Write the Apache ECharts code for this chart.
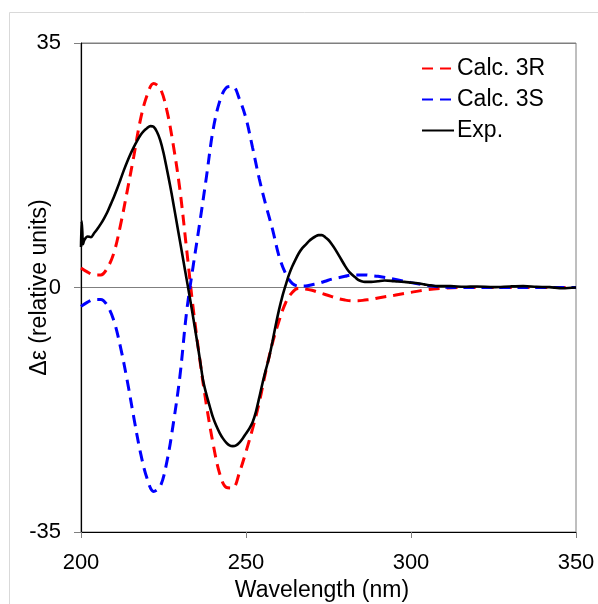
<!DOCTYPE html>
<html>
<head>
<meta charset="utf-8">
<script src="https://cdn.jsdelivr.net/npm/echarts@6/dist/echarts.min.js"></script>
<style>
html,body{margin:0;padding:0;background:#fff;}
#chart{width:598px;height:604px;}
</style>
</head>
<body>
<div id="chart"></div>
<script>
// Tick values
const xTicks = [200, 250, 300, 350];
const yTicks = [-35, 0, 35];

// Calc. 3R
const wl3R = [200, 202, 204, 206, 208, 210, 212, 214, 216, 218, 220, 222, 224, 226, 228, 230, 232, 234, 236, 238, 240, 242, 244, 246, 248, 250, 252, 254, 256, 258, 260, 262, 264, 266, 268, 270, 272, 274, 276, 278, 280, 282, 284, 286, 288, 290, 295, 300, 305, 310, 315, 320, 330, 340, 350];
const val3R = [2.8, 2.2, 1.8, 1.8, 2.8, 5.0, 9.0, 13.8, 18.8, 24.0, 27.5, 29.2, 28.5, 25.4, 20.3, 13.9, 5.5, -3.0, -10.3, -16.8, -22.3, -26.6, -28.6, -28.7, -26.5, -23.5, -20.2, -16.5, -12.0, -8.0, -4.8, -2.2, -0.7, -0.1, -0.2, -0.4, -0.7, -1.0, -1.3, -1.6, -1.8, -1.9, -1.9, -1.8, -1.7, -1.5, -1.1, -0.7, -0.3, -0.1, 0, 0, 0, 0, 0];

// Calc. 3S
const wl3S = [200, 202, 204, 206, 208, 210, 212, 214, 216, 218, 220, 222, 224, 226, 228, 230, 232, 234, 236, 238, 240, 242, 244, 246, 248, 250, 252, 254, 256, 258, 260, 262, 264, 266, 268, 270, 272, 274, 276, 278, 280, 282, 284, 286, 288, 290, 295, 300, 305, 310, 315, 320, 330, 340, 350];
const val3S = [-2.7, -2.1, -1.7, -1.7, -2.6, -4.8, -8.6, -13.3, -18.6, -23.6, -27.3, -29.2, -28.5, -25.0, -19.4, -12.6, -3.5, 3.1, 9.3, 15.8, 22.5, 26.6, 28.6, 28.8, 27.0, 24.2, 20.0, 15.6, 11.8, 8.4, 4.5, 2.0, 0.6, 0.2, 0.2, 0.4, 0.6, 0.9, 1.2, 1.4, 1.6, 1.8, 1.8, 1.8, 1.7, 1.6, 1.2, 0.7, 0.3, 0.05, 0, 0, 0, 0, 0];

// Exp.
const wlExp = [200, 200.2, 200.4, 200.6, 201, 202, 203, 204, 205, 206, 207, 208, 209, 210, 211, 212, 213, 214, 215, 216, 217, 218, 219, 220, 221, 222, 223, 224, 225, 226, 227, 228, 229, 230, 231, 232, 233, 234, 235, 236, 237, 238, 239, 240, 241, 242, 243, 244, 245, 246, 247, 248, 249, 250, 251, 252, 253, 254, 255, 256, 257, 258, 259, 260, 261, 262, 263, 264, 265, 266, 267, 268, 269, 270, 271, 272, 273, 274, 275, 276, 277, 278, 279, 280, 281, 282, 283, 284, 285, 286, 288, 290, 292, 294, 296, 298, 300, 302, 304, 306, 308, 312, 316, 320, 325, 330, 334, 338, 342, 346, 350];
const valExp = [5.8, 9.5, 8.0, 6.2, 6.8, 7.3, 7.2, 7.8, 8.4, 9.1, 9.9, 10.8, 11.9, 13.0, 14.2, 15.5, 16.8, 18.0, 19.1, 20.1, 21.0, 21.8, 22.4, 22.8, 23.1, 23.0, 22.3, 21.1, 19.3, 17.0, 14.6, 12.0, 9.3, 6.6, 3.9, 1.2, -1.5, -4.3, -7.2, -10.2, -13.3, -15.3, -17.0, -18.6, -19.8, -20.8, -21.6, -22.2, -22.6, -22.7, -22.6, -22.2, -21.6, -20.9, -20.2, -19.3, -17.8, -15.8, -13.7, -11.8, -10.0, -7.8, -5.4, -3.2, -1.3, 0.3, 1.8, 3.0, 4.0, 4.9, 5.6, 6.1, 6.6, 7.0, 7.3, 7.5, 7.5, 7.2, 6.8, 6.2, 5.5, 4.7, 3.9, 3.1, 2.4, 1.9, 1.5, 1.1, 0.9, 0.8, 0.8, 0.9, 1.0, 0.95, 0.85, 0.8, 0.7, 0.6, 0.45, 0.3, 0.2, 0.2, 0.1, 0.15, 0.05, 0.15, 0.2, 0.1, 0.05, -0.1, 0];

const pairs = (xs, ys) => xs.map((x, i) => [x, ys[i]]);
const FONT = 'Liberation Sans, Arial, sans-serif';

const chart = echarts.init(document.getElementById('chart'), null, {renderer: 'canvas'});
chart.setOption({
  animation: false,
  backgroundColor: '#fff',
  graphic: [{
    type: 'rect',
    shape: {x: 9.5, y: 12.5, width: 700, height: 700},
    style: {fill: 'none', stroke: '#d9d9d9', lineWidth: 1},
    silent: true, z: 0
  }],
  grid: {
    left: 81, right: 22, top: 43, bottom: 72,
    outerBoundsMode: 'none', containLabel: false,
    show: true, borderColor: '#7f7f7f', borderWidth: 1, backgroundColor: 'transparent'
  },
  legend: {
    orient: 'vertical',
    left: 416, top: 52,
    itemWidth: 32, itemHeight: 14, itemGap: 8,
    itemStyle: {opacity: 0, color: 'transparent', borderWidth: 0},
    textStyle: {fontFamily: FONT, fontSize: 23, color: '#000', padding: [0, 0, 0, -2]},
    data: ['Calc. 3R', 'Calc. 3S', 'Exp.']
  },
  xAxis: {
    type: 'value',
    min: xTicks[0], max: xTicks[xTicks.length - 1],
    interval: xTicks[1] - xTicks[0],
    name: 'Wavelength (nm)',
    nameLocation: 'middle', nameGap: 47, nameMoveOverlap: false,
    nameTextStyle: {fontFamily: FONT, fontSize: 23, color: '#000', padding: [0, 13, 0, 0]},
    axisLine: {show: true, onZero: false, lineStyle: {color: '#000', width: 1.2}},
    axisTick: {show: true, inside: false, length: 6, lineStyle: {color: '#7f7f7f'}},
    axisLabel: {fontFamily: FONT, fontSize: 22, color: '#000', margin: 20},
    splitLine: {show: false}
  },
  yAxis: {
    type: 'value',
    min: yTicks[0], max: yTicks[yTicks.length - 1],
    interval: yTicks[1] - yTicks[0],
    name: 'Δε (relative units)',
    nameLocation: 'middle', nameGap: 30, nameMoveOverlap: false,
    nameTextStyle: {fontFamily: FONT, fontSize: 23, color: '#000'},
    axisLine: {show: true, onZero: false, lineStyle: {color: '#000', width: 1.2}},
    axisTick: {show: true, inside: false, length: 7, lineStyle: {color: '#7f7f7f'}},
    axisLabel: {fontFamily: FONT, fontSize: 22, color: '#000', margin: 20},
    splitLine: {show: true, lineStyle: {color: ['transparent', '#7f7f7f', '#7f7f7f'], width: 1.2}}
  },
  series: [
    {
      name: 'Calc. 3R', type: 'line', data: pairs(wl3R, val3R),
      showSymbol: false, symbol: 'none', smooth: 0.35,
      lineStyle: {color: '#ff0000', width: 3, type: [11, 7]},
      itemStyle: {color: '#ff0000'}, z: 3
    },
    {
      name: 'Calc. 3S', type: 'line', data: pairs(wl3S, val3S),
      showSymbol: false, symbol: 'none', smooth: 0.35,
      lineStyle: {color: '#0000ff', width: 3, type: [11, 7]},
      itemStyle: {color: '#0000ff'}, z: 3
    },
    {
      name: 'Exp.', type: 'line', data: pairs(wlExp, valExp),
      showSymbol: false, symbol: 'none', smooth: 0.3,
      lineStyle: {color: '#000000', width: 2.6, type: 'solid'},
      itemStyle: {color: '#000000'}, z: 4
    }
  ]
});
</script>
</body>
</html>
